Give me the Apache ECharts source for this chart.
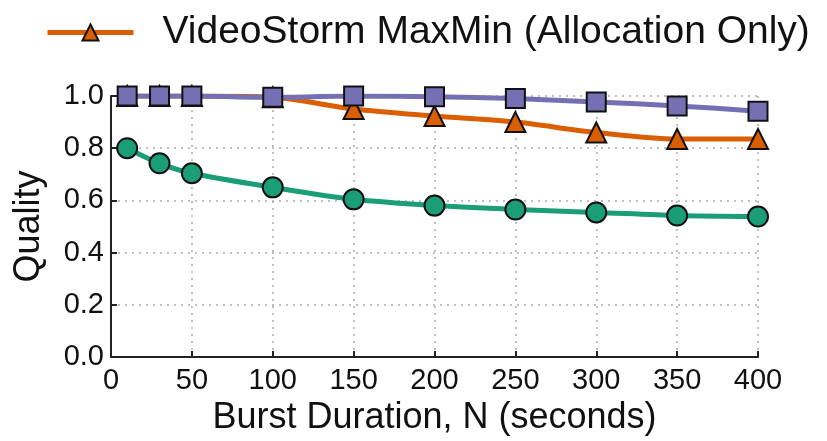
<!DOCTYPE html>
<html>
<head>
<meta charset="utf-8">
<title>Quality vs Burst Duration</title>
<script src="https://cdn.jsdelivr.net/npm/echarts@6/dist/echarts.min.js"></script>
</head>
<body style="margin:0">
<div id="main" style="width:827px;height:441px;"></div>
<script type="text/javascript">
// burst durations (x)
var durations = [10, 30, 50, 100, 150, 200, 250, 300, 350, 400];
// quality values
var fairQuality = [0.80, 0.742, 0.704, 0.65, 0.604, 0.58, 0.565, 0.554, 0.542, 0.538];
var maxminQuality = [1.0, 1.0, 1.0, 0.995, 0.95, 0.923, 0.90, 0.86, 0.835, 0.835];
var videostormQuality = [1.0, 1.0, 1.0, 0.995, 1.0, 0.997, 0.99, 0.977, 0.962, 0.942];

function pairs(ys) {
    return durations.map(function (x, i) { return [x, ys[i]]; });
}

var font = 'Liberation Sans';
var myChart = echarts.init(document.getElementById('main'));

function line(name, ys, color, symbol, size) {
    return {
        name: name,
        type: 'line',
        data: pairs(ys),
        smooth: 0.3,
        symbol: symbol,
        symbolSize: size,
        lineStyle: { color: color, width: 5 },
        itemStyle: { color: color, borderColor: '#111', borderWidth: 2 }
    };
}

var option = {
    animation: false,
    legend: {
        data: ['VideoStorm MaxMin (Allocation Only)'],
        left: 40,
        top: 8,
        itemWidth: 86,
        itemHeight: 20,
        lineStyle: { width: 5 },
        textStyle: { fontFamily: font, fontSize: 39, color: '#111', padding: [0, 0, 0, 24] }
    },
    grid: { left: 111, right: 69, top: 96, bottom: 84 },
    xAxis: {
        type: 'value',
        min: 0, max: 400, interval: 50,
        name: 'Burst Duration, N (seconds)',
        nameLocation: 'middle',
        nameGap: 42,
        nameTextStyle: { fontFamily: font, fontSize: 36, color: '#111' },
        axisLine: { onZero: false, lineStyle: { color: '#222', width: 2 } },
        axisTick: { inside: true, length: 6, lineStyle: { color: '#222', width: 2 } },
        axisLabel: { fontFamily: font, fontSize: 29, color: '#111', margin: 9 },
        splitLine: { show: true, lineStyle: { color: '#aaa', type: [2, 5], width: 1.5 } }
    },
    yAxis: {
        type: 'value',
        min: 0, max: 1.0, interval: 0.2,
        name: 'Quality',
        nameLocation: 'middle',
        nameGap: 64,
        nameTextStyle: { fontFamily: font, fontSize: 36, color: '#111' },
        axisLine: { show: true, lineStyle: { color: '#222', width: 2 } },
        axisTick: { show: true, inside: true, length: 6, lineStyle: { color: '#222', width: 2 } },
        axisLabel: {
            fontFamily: font, fontSize: 29, color: '#111', margin: 7,
            formatter: function (v) { return v.toFixed(1); }
        },
        splitLine: { show: true, lineStyle: { color: '#aaa', type: [2, 5], width: 1.5 } }
    },
    series: [
        line('Fair Sharing', fairQuality, '#1b9e77', 'circle', 20),
        line('VideoStorm MaxMin (Allocation Only)', maxminQuality, '#d95f02', 'triangle', 20),
        line('VideoStorm', videostormQuality, '#7570b3', 'rect', 19)
    ]
};

myChart.setOption(option);
</script>
</body>
</html>
